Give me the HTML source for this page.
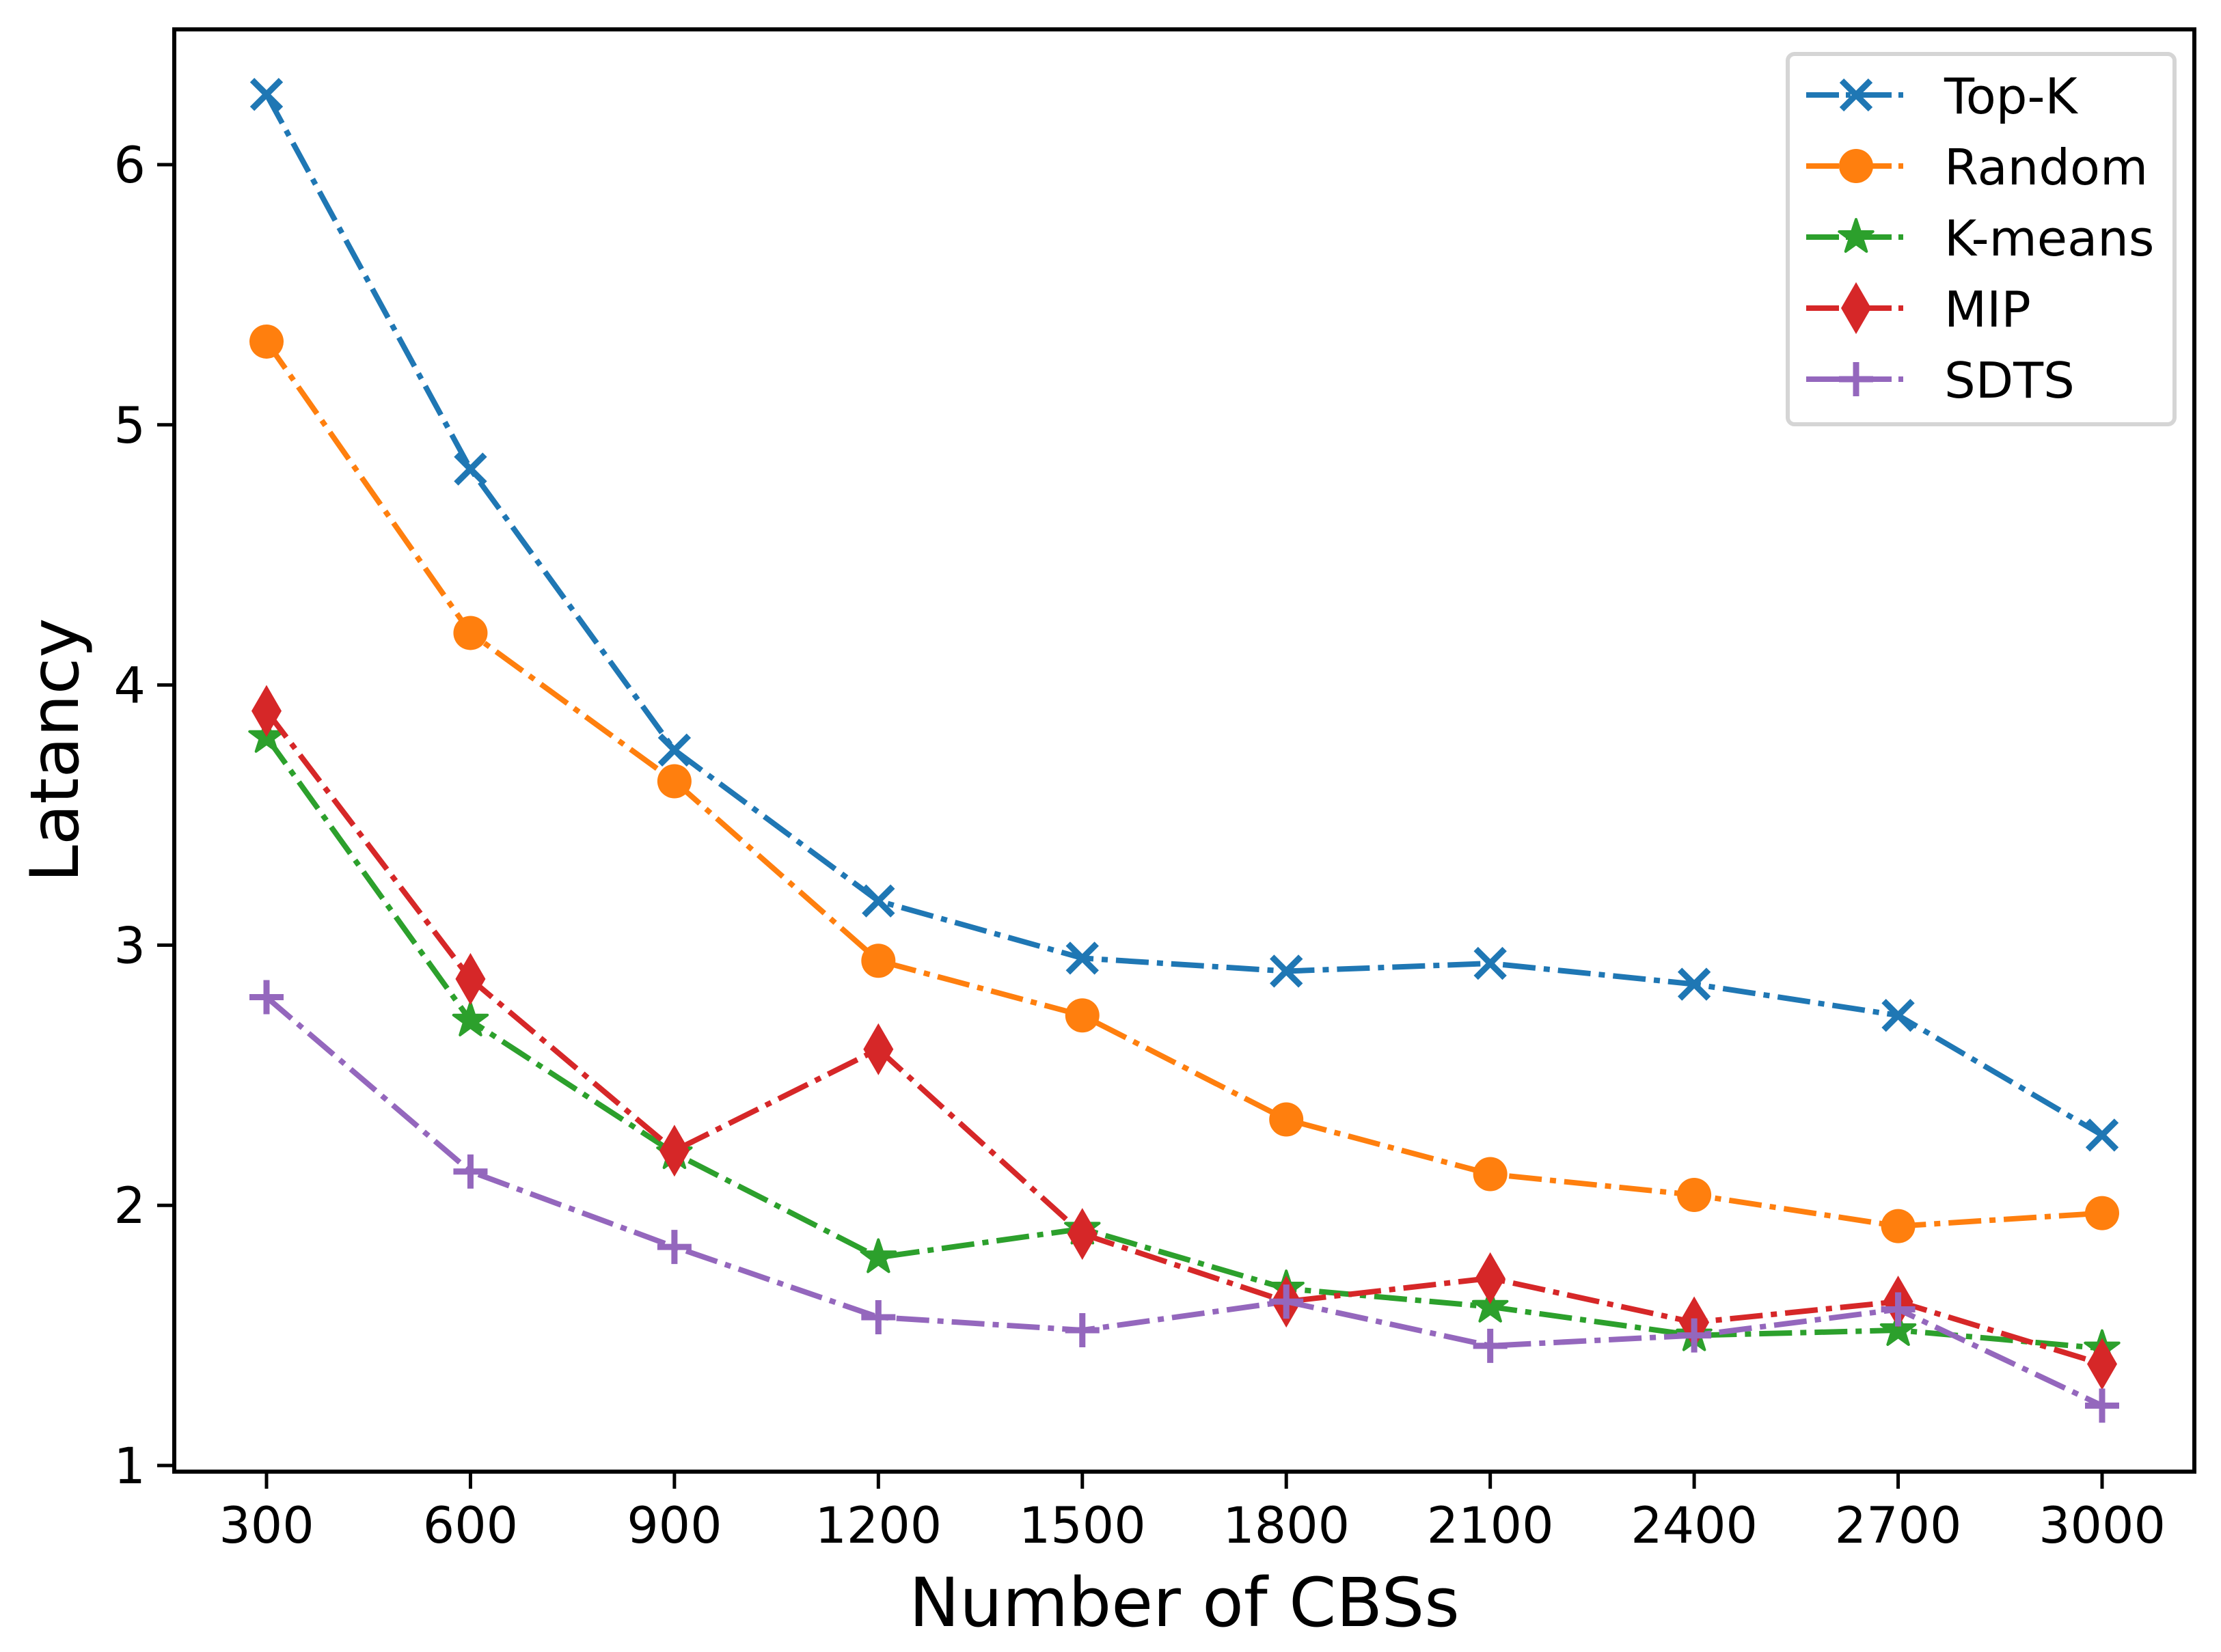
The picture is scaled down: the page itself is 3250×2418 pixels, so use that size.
<!DOCTYPE html>
<html>
<head>
<meta charset="utf-8">
<style>
  html,body{margin:0;padding:0;background:#fff;}
  svg{display:block;}
  text{font-family:"DejaVu Sans","Liberation Sans",sans-serif;fill:#000;}
</style>
</head>
<body>
<svg id="chart" xmlns="http://www.w3.org/2000/svg" width="3250" height="2418" viewBox="0 0 3250 2418">
  <rect x="0" y="0" width="3250" height="2418" fill="#fff"/>
  <g id="series-layer"></g>
  <g id="axes-layer"></g>
  <g id="legend-layer"></g>
</svg>
<script>
const categories = [300, 600, 900, 1200, 1500, 1800, 2100, 2400, 2700, 3000];
const topKValues   = [6.27, 4.83, 3.75, 3.17, 2.95, 2.90, 2.93, 2.85, 2.73, 2.27];
const randomValues = [5.32, 4.20, 3.63, 2.94, 2.73, 2.33, 2.12, 2.04, 1.92, 1.97];
const kmeansValues = [3.80, 2.71, 2.20, 1.80, 1.91, 1.68, 1.61, 1.50, 1.52, 1.45];
const mipValues    = [3.90, 2.87, 2.21, 2.60, 1.89, 1.63, 1.72, 1.55, 1.63, 1.39];
const sdtsValues   = [2.80, 2.13, 1.84, 1.57, 1.52, 1.63, 1.46, 1.50, 1.60, 1.23];
const yTickValues = [1, 2, 3, 4, 5, 6];
const xTickLabels = ["300","600","900","1200","1500","1800","2100","2400","2700","3000"];
const seriesNames = ["Top-K", "Random", "K-means", "MIP", "SDTS"];

const NS = "http://www.w3.org/2000/svg";
const plot = {left: 255, right: 3211, top: 43, bottom: 2154};
function xScale(v){ return 390 + (v - 300) * (3076 - 390) / 2700; }
function yScale(v){ return 2145 - (v - 1) * (2145 - 241) / 5; }

function mk(tag, attrs, parent){
  const el = document.createElementNS(NS, tag);
  for (const k in attrs) el.setAttribute(k, attrs[k]);
  parent.appendChild(el);
  return el;
}

const seriesDefs = [
  {name: seriesNames[0], values: topKValues, color: "#1f77b4", marker: "x"},
  {name: seriesNames[1], values: randomValues, color: "#ff7f0e", marker: "o"},
  {name: seriesNames[2], values: kmeansValues, color: "#2ca02c", marker: "star"},
  {name: seriesNames[3], values: mipValues, color: "#d62728", marker: "d"},
  {name: seriesNames[4], values: sdtsValues, color: "#9467bd", marker: "plus"}
];

function drawMarker(g, type, cx, cy, color){
  let m;
  if (type === "x") {
    m = mk("path", {d: `M${cx-21},${cy-21}L${cx+21},${cy+21}M${cx-21},${cy+21}L${cx+21},${cy-21}`, stroke: color, "stroke-width": 9, fill: "none"}, g);
  } else if (type === "o") {
    m = mk("circle", {cx: cx, cy: cy, r: 25, fill: color}, g);
  } else if (type === "star") {
    let pts = [];
    for (let i = 0; i < 10; i++) {
      const r = i % 2 === 0 ? 26 : 10;
      const a = -Math.PI/2 + i * Math.PI/5;
      pts.push((cx + r*Math.cos(a)).toFixed(1) + "," + (cy + r*Math.sin(a)).toFixed(1));
    }
    m = mk("polygon", {points: pts.join(" "), fill: color, stroke: color, "stroke-width": 4, "stroke-linejoin": "round"}, g);
  } else if (type === "d") {
    m = mk("polygon", {points: `${cx},${cy-38} ${cx+22},${cy} ${cx},${cy+38} ${cx-22},${cy}`, fill: color}, g);
  } else if (type === "plus") {
    m = mk("path", {d: `M${cx-25},${cy}L${cx+25},${cy}M${cx},${cy-25}L${cx},${cy+25}`, stroke: color, "stroke-width": 9, fill: "none"}, g);
  }
  return m;
}

const seriesLayer = document.getElementById("series-layer");
seriesDefs.forEach((s, si) => {
  const g = mk("g", {}, seriesLayer);
  
  
  const pts = s.values.map((v, i) => xScale(categories[i]).toFixed(1) + "," + yScale(v).toFixed(1)).join(" ");
  const line = mk("polyline", {points: pts, fill: "none", stroke: s.color, "stroke-width": 8, "stroke-dasharray": "48 12 9 12"}, g);
  
  
  s.values.forEach((v, i) => {
    const m = drawMarker(g, s.marker, xScale(categories[i]), yScale(v), s.color);
    
    
  });
});

const axes = document.getElementById("axes-layer");
const frame = mk("rect", {x: plot.left, y: plot.top, width: plot.right - plot.left, height: plot.bottom - plot.top, fill: "none", stroke: "#000", "stroke-width": 6}, axes);



yTickValues.forEach(v => {
  const y = yScale(v);
  const t = mk("line", {x1: plot.left - 25, x2: plot.left, y1: y, y2: y, stroke: "#000", "stroke-width": 5}, axes);
  
  
  const lab = mk("text", {x: plot.left - 42, y: y + 26, "text-anchor": "end", "font-size": 73}, axes);
  lab.textContent = String(v);
  
  
});

categories.forEach((c, i) => {
  const x = xScale(c);
  const t = mk("line", {x1: x, x2: x, y1: plot.bottom, y2: plot.bottom + 25, stroke: "#000", "stroke-width": 5}, axes);
  
  
  const lab = mk("text", {x: x, y: 2258, "text-anchor": "middle", "font-size": 73}, axes);
  lab.textContent = xTickLabels[i];
  
  
});

const xTitle = mk("text", {x: 1733, y: 2380, "text-anchor": "middle", "font-size": 99}, axes);
xTitle.textContent = "Number of CBSs";



const yTitle = mk("text", {x: 0, y: 0, "text-anchor": "middle", "font-size": 98, transform: "translate(114,1098) rotate(-90)"}, axes);
yTitle.textContent = "Latancy";



const legend = document.getElementById("legend-layer");
const box = mk("rect", {x: 2616, y: 79, width: 566, height: 542, rx: 10, ry: 10, fill: "#fff", stroke: "#d5d5d5", "stroke-width": 6}, legend);


seriesDefs.forEach((s, i) => {
  const y = 139 + i * 104;
  const g = mk("g", {}, legend);
  
  
  mk("line", {x1: 2643, x2: 2785, y1: y, y2: y, stroke: s.color, "stroke-width": 8, "stroke-dasharray": "48 10 7 12"}, g);
  drawMarker(g, s.marker, 2716, y, s.color);
  const t = mk("text", {x: 2845, y: y + 27, "font-size": 72}, g);
  t.textContent = s.name;
});
</script>
</body>
</html>
